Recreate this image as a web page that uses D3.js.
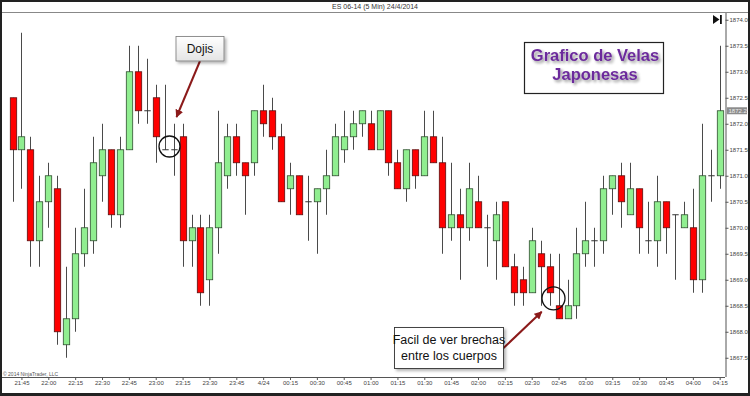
<!DOCTYPE html>
<html><head><meta charset="utf-8">
<script src="https://cdn.jsdelivr.net/npm/d3@7"></script>
<style>
html,body{margin:0;padding:0;background:#fff;}
svg{display:block;font-family:Arial,"Liberation Sans",sans-serif;}
</style></head>
<body>
<svg id="c" width="750" height="396"></svg>
<script>
// ---- DATA ----
const times = ["21:40","21:45","21:50","21:55","22:00","22:05","22:10","22:15","22:20","22:25",
"22:30","22:35","22:40","22:45","22:50","22:55","23:00","23:05","23:10","23:15",
"23:20","23:25","23:30","23:35","23:40","23:45","23:50","23:55","00:00","00:05",
"00:10","00:15","00:20","00:25","00:30","00:35","00:40","00:45","00:50","00:55",
"01:00","01:05","01:10","01:15","01:20","01:25","01:30","01:35","01:40","01:45",
"01:50","01:55","02:00","02:05","02:10","02:15","02:20","02:25","02:30","02:35",
"02:40","02:45","02:50","02:55","03:00","03:05","03:10","03:15","03:20","03:25",
"03:30","03:35","03:40","03:45","03:50","03:55","04:00","04:05","04:10","04:15"];
const openV = [1872.5,1871.5,1871.5,1869.75,1870.5,1870.75,1867.75,1868.25,1869.5,1869.75,
1871.0,1871.5,1870.25,1871.5,1873.0,1872.25,1872.5,1871.5,1871.5,1871.75,
1869.75,1870.0,1869.0,1870.0,1871.0,1871.75,1871.25,1871.25,1872.25,1872.25,
1871.75,1870.75,1871.0,1870.5,1870.5,1870.75,1871.0,1871.5,1871.75,1872.0,
1872.0,1871.5,1872.25,1871.25,1870.75,1871.5,1871.0,1871.75,1871.25,1870.0,
1870.25,1870.0,1870.5,1870.0,1869.75,1870.5,1869.25,1869.0,1868.75,1869.5,
1869.25,1868.5,1868.25,1868.5,1869.5,1869.75,1869.75,1870.75,1871.0,1870.25,
1870.75,1869.75,1869.75,1870.5,1870.25,1870.0,1870.0,1869.0,1871.0,1871.0];
const highV = [1872.5,1873.75,1871.75,1871.0,1871.25,1871.0,1869.25,1870.0,1870.75,1871.75,
1872.0,1871.5,1871.75,1873.5,1873.5,1873.25,1872.75,1872.75,1872.0,1872.0,
1870.25,1870.25,1870.25,1872.25,1872.0,1872.0,1871.25,1872.25,1872.75,1872.5,
1872.0,1871.25,1871.0,1871.0,1870.75,1871.5,1872.0,1872.25,1872.25,1872.25,
1872.25,1872.25,1872.25,1871.5,1871.5,1871.5,1872.25,1872.25,1871.75,1871.25,
1870.75,1871.25,1871.0,1870.25,1870.5,1870.5,1869.5,1869.25,1870.0,1869.75,
1869.5,1869.5,1869.0,1870.0,1870.5,1870.0,1871.0,1871.0,1871.25,1871.25,
1870.75,1870.5,1871.0,1870.5,1870.25,1870.5,1870.75,1872.0,1871.5,1873.5];
const lowV = [1870.5,1870.75,1869.25,1869.25,1870.0,1867.75,1867.5,1868.0,1869.25,1869.5,
1870.5,1870.0,1870.0,1871.5,1872.0,1872.0,1871.25,1871.5,1871.0,1869.25,
1869.25,1868.5,1868.5,1869.5,1870.75,1871.0,1870.25,1871.0,1871.75,1871.5,
1870.5,1870.25,1870.25,1869.75,1869.5,1870.25,1871.0,1871.25,1871.5,1871.75,
1871.5,1871.5,1871.0,1870.75,1870.5,1870.75,1871.0,1871.25,1869.5,1869.75,
1869.0,1869.75,1870.0,1869.25,1869.0,1869.25,1868.5,1868.5,1868.75,1868.5,
1868.5,1868.25,1868.25,1868.25,1869.25,1869.25,1869.5,1870.25,1870.0,1870.25,
1869.5,1869.5,1869.25,1869.5,1869.0,1870.0,1868.75,1868.75,1870.5,1870.75];
const closeV = [1871.5,1871.75,1869.75,1870.5,1871.0,1868.0,1868.25,1869.5,1870.0,1871.25,
1871.5,1870.25,1871.5,1873.0,1872.25,1872.25,1871.75,1871.5,1871.5,1869.75,
1870.0,1868.75,1870.0,1871.25,1871.75,1871.25,1871.0,1872.25,1872.0,1871.75,
1870.5,1871.0,1870.25,1870.5,1870.75,1871.0,1871.75,1871.75,1872.0,1872.25,
1871.5,1872.25,1871.25,1870.75,1871.5,1871.0,1871.75,1871.25,1870.0,1870.25,
1870.0,1870.75,1870.0,1870.0,1870.25,1869.25,1868.75,1868.75,1869.75,1869.25,
1868.75,1868.25,1868.5,1869.5,1869.75,1869.75,1870.75,1871.0,1870.5,1870.75,
1870.0,1869.75,1870.5,1870.0,1870.25,1870.25,1869.0,1871.0,1871.0,1872.25];
const yTickLabels = [1867.5,1868.0,1868.5,1869.0,1869.5,1870.0,1870.5,1871.0,1871.5,1872.0,1872.5,1873.0,1873.5,1874.0];
const xTickLabels = ["21:45","22:00","22:15","22:30","22:45","23:00","23:15","23:30","23:45","00:00",
"00:15","00:30","00:45","01:00","01:15","01:30","01:45","02:00","02:15","02:30","02:45","03:00",
"03:15","03:30","03:45","04:00","04:15"];
const lastPrice = 1872.25;
const chartTitle = "ES 06-14 (5 Min)  24/4/2014";

// ---- BUILD ----
const toDate = s => {
  const [h,m] = s.split(":").map(Number);
  return new Date(2014, 3, h >= 12 ? 23 : 24, h, m);
};
const bars = times.map((t,i)=>({t:toDate(t),o:openV[i],h:highV[i],l:lowV[i],c:closeV[i]}));

const svg = d3.select("#c");
const x = d3.scaleTime().domain([toDate("21:40"), toDate("04:15")]).range([12.5, 719.7]);
const y = d3.scaleLinear().domain([1867.13, 1874.13]).range([377, 13]);

const defs = svg.append("defs");
defs.append("clipPath").attr("id","plot").append("rect").attr("x",2).attr("y",13).attr("width",723).attr("height",364);
const glow = defs.append("filter").attr("id","glow").attr("x","-20%").attr("y","-40%").attr("width","140%").attr("height","180%");
glow.append("feGaussianBlur").attr("in","SourceAlpha").attr("stdDeviation",1.6).attr("result","b");
glow.append("feOffset").attr("in","b").attr("dx",1.5).attr("dy",1.5).attr("result","o");
glow.append("feComponentTransfer").attr("in","o").attr("result","o2").append("feFuncA").attr("type","linear").attr("slope",0.45);
const gm = glow.append("feMerge"); gm.append("feMergeNode").attr("in","o2"); gm.append("feMergeNode").attr("in","SourceGraphic");
const shadow = defs.append("filter").attr("id","shadow").attr("x","-20%").attr("y","-30%").attr("width","150%").attr("height","170%");
shadow.append("feDropShadow").attr("dx",2).attr("dy",2).attr("stdDeviation",1.5).attr("flood-color","#000").attr("flood-opacity",0.3);
const grad = defs.append("linearGradient").attr("id","boxg").attr("x1",0).attr("y1",0).attr("x2",0).attr("y2",1);
grad.append("stop").attr("offset","0%").attr("stop-color","#ffffff");
grad.append("stop").attr("offset","100%").attr("stop-color","#e4e4e4");
defs.append("marker").attr("id","arr").attr("viewBox","0 0 10 10").attr("refX",9).attr("refY",5)
  .attr("markerWidth",4).attr("markerHeight",4).attr("orient","auto")
  .append("path").attr("d","M0,0 L10,5 L0,10 z").attr("fill","#8b1a1a");

svg.append("rect").attr("x",0).attr("y",0).attr("width",750).attr("height",396).attr("fill","#fff");

// title bar
svg.append("text").attr("x",375).attr("y",8.5).attr("text-anchor","middle").attr("font-size",7).attr("fill","#333").text(chartTitle);
svg.append("line").attr("x1",0).attr("x2",750).attr("y1",12.5).attr("y2",12.5).attr("stroke","#888").attr("stroke-width",1);

// candles
const plot = svg.append("g").attr("clip-path","url(#plot)");
const bw = 6.4;
const g = plot.selectAll("g.c").data(bars).join("g").attr("class","c");
g.append("line").attr("x1",d=>Math.round(x(d.t))+0.5).attr("x2",d=>Math.round(x(d.t))+0.5)
  .attr("y1",d=>y(d.h)).attr("y2",d=>y(d.l)).attr("stroke","#4a4a4a").attr("stroke-width",1);
g.filter(d=>d.o!==d.c).append("rect")
  .attr("x",d=>Math.round(x(d.t))+0.5-bw/2).attr("width",bw)
  .attr("y",d=>y(Math.max(d.o,d.c))).attr("height",d=>Math.abs(y(d.o)-y(d.c)))
  .attr("fill",d=>d.c>d.o?"#90ee90":"#ff0000").attr("stroke",d=>d.c>d.o?"#2f4f2f":"#5a1010").attr("stroke-width",0.8);
g.filter(d=>d.o===d.c).append("line")
  .attr("x1",d=>Math.round(x(d.t))+0.5-bw/2).attr("x2",d=>Math.round(x(d.t))+0.5+bw/2)
  .attr("y1",d=>y(d.o)).attr("y2",d=>y(d.o)).attr("stroke","#333").attr("stroke-width",1);

// x axis
const xa = svg.append("g").attr("transform","translate(0,377)")
  .call(d3.axisBottom(x).tickValues(xTickLabels.map(toDate)).tickSize(3).tickPadding(1)
    .tickFormat(d=>d.getHours()===0&&d.getMinutes()===0?"4/24":d3.timeFormat("%H:%M")(d)));
xa.select(".domain").attr("d","M2,0.5H725").attr("stroke","#555");
xa.selectAll(".tick line").attr("stroke","#555");
xa.selectAll("text").attr("font-size",6).attr("fill","#444").attr("font-family","Arial,'Liberation Sans',sans-serif");

// y axis
const ya = svg.append("g").attr("transform","translate(725.5,0)")
  .call(d3.axisRight(y).tickValues(yTickLabels).tickSize(3).tickPadding(1).tickFormat(d3.format(".2f")));
ya.select(".domain").attr("d","M0.5,13V377").attr("stroke","#555");
ya.selectAll(".tick line").attr("stroke","#555");
ya.selectAll("text").attr("font-size",6).attr("fill","#444").attr("font-family","Arial,'Liberation Sans',sans-serif");

// last price marker
svg.append("rect").attr("x",727).attr("y",y(lastPrice)-3.5).attr("width",20).attr("height",7).attr("fill","#8c8c8c");
svg.append("text").attr("x",728.5).attr("y",y(lastPrice)+2).attr("font-size",6).attr("fill","#eee").text(d3.format(".2f")(lastPrice));

// play icon
svg.append("path").attr("d","M713,15 L719.5,19.5 L713,24 Z").attr("fill","#111");
svg.append("rect").attr("x",720).attr("y",15).attr("width",1.8).attr("height",9).attr("fill","#111");
svg.append("rect").attr("x",709).attr("y",14).attr("width",15).attr("height",12).attr("fill","none");

// copyright
svg.append("text").attr("x",3).attr("y",376).attr("font-size",5).attr("fill","#555").text("\u00a9 2014 NinjaTrader, LLC");

// annotations
const ann = svg.append("g");
// Dojis
ann.append("line").attr("x1",200).attr("y1",61).attr("x2",176.5).attr("y2",117)
  .attr("stroke","#8b1a1a").attr("stroke-width",2).attr("marker-end","url(#arr)");
ann.append("rect").attr("x",176).attr("y",36.5).attr("width",48).attr("height",24.5)
  .attr("fill","url(#boxg)").attr("stroke","#777").attr("stroke-width",0.8).attr("filter","url(#shadow)");
ann.append("text").attr("x",200).attr("y",53).attr("text-anchor","middle").attr("font-size",12).attr("fill","#111").text("Dojis");
ann.append("circle").attr("cx",169.5).attr("cy",146.5).attr("r",10.5).attr("fill","none").attr("stroke","#111").attr("stroke-width",1.3);
// gaps
ann.append("line").attr("x1",503).attr("y1",348.5).attr("x2",541.7).attr("y2",311.7)
  .attr("stroke","#8b1a1a").attr("stroke-width",2).attr("marker-end","url(#arr)");
ann.append("rect").attr("x",394.5).attr("y",327.5).attr("width",109).attr("height",41)
  .attr("fill","#fff").attr("stroke","#333").attr("stroke-width",0.9).attr("filter","url(#shadow)");
ann.append("text").attr("x",449).attr("y",344).attr("text-anchor","middle").attr("font-size",12.5).attr("fill","#111").text("Facil de ver brechas");
ann.append("text").attr("x",449).attr("y",360).attr("text-anchor","middle").attr("font-size",12.5).attr("fill","#111").text("entre los cuerpos");
ann.append("circle").attr("cx",553.5).attr("cy",298.3).attr("r",11.5).attr("fill","none").attr("stroke","#111").attr("stroke-width",1.3);
// title box
ann.append("rect").attr("x",524.5).attr("y",42.5).attr("width",139).attr("height",51)
  .attr("fill","#fff").attr("stroke","#222").attr("stroke-width",1.2);
ann.append("text").attr("x",595).attr("y",61).attr("text-anchor","middle").attr("font-size",16.5).attr("font-weight","bold")
  .attr("fill","#6c2c9c").attr("filter","url(#glow)").text("Grafico de Velas");
ann.append("text").attr("x",595).attr("y",79.5).attr("text-anchor","middle").attr("font-size",16.5).attr("font-weight","bold")
  .attr("fill","#6c2c9c").attr("filter","url(#glow)").text("Japonesas");

// outer frame
svg.append("rect").attr("x",1).attr("y",1).attr("width",748).attr("height",393).attr("fill","none").attr("stroke","#222").attr("stroke-width",2);
svg.append("line").attr("x1",0).attr("x2",750).attr("y1",394.5).attr("y2",394.5).attr("stroke","#222").attr("stroke-width",3);
</script>
</body></html>
